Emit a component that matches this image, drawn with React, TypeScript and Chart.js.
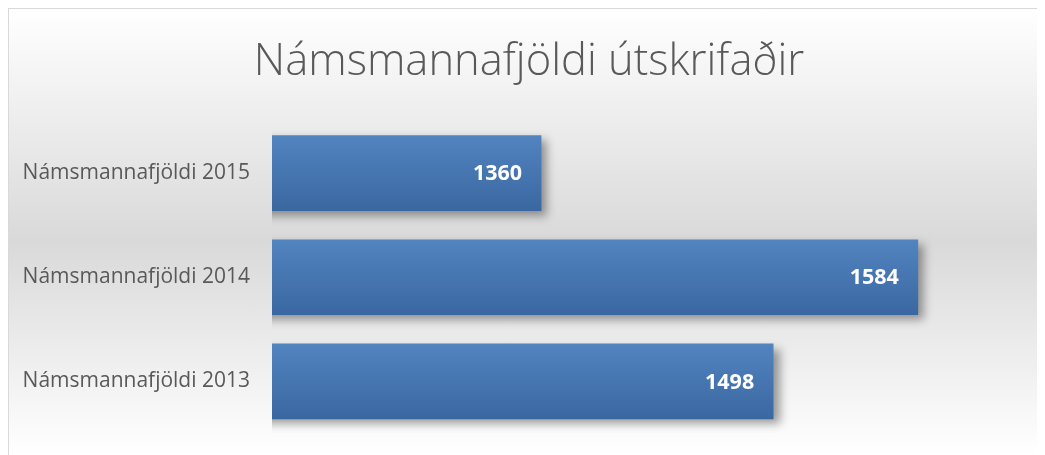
import React, { useEffect, useRef } from "react";
import { Chart, registerables } from "chart.js";

Chart.register(...registerables);

const titleText = "Námsmannafjöldi útskrifaðir";
const categories = ["Námsmannafjöldi 2015", "Námsmannafjöldi 2014", "Námsmannafjöldi 2013"];
const values = [1360, 1584, 1498];
const axisMin = 1200;
const axisMax = 1662;

const BAR_H = 75;

const shadowPlugin = {
  id: "barShadow",
  beforeDatasetsDraw(chart: any) {
    const ctx = chart.ctx;
    ctx.save();
    ctx.shadowColor = "rgba(0,0,0,0.38)";
    ctx.shadowBlur = 9;
    ctx.shadowOffsetX = 6;
    ctx.shadowOffsetY = 5;
  },
  afterDatasetsDraw(chart: any) {
    chart.ctx.restore();
  },
};

const labelPlugin = {
  id: "barLabels",
  afterDatasetsDraw(chart: any) {
    const ctx = chart.ctx;
    const meta = chart.getDatasetMeta(0);
    ctx.save();
    ctx.fillStyle = "#ffffff";
    ctx.font = "bold 21.5px 'Open Sans'";
    ctx.textAlign = "right";
    ctx.textBaseline = "middle";
    meta.data.forEach((el: any, i: number) => {
      ctx.fillText(String(values[i]), el.x - 19, el.y + 1);
    });
    ctx.restore();
  },
};

export default function App() {
  const ref = useRef<HTMLCanvasElement>(null);
  useEffect(() => {
    if (!ref.current) return;
    const chart = new Chart(ref.current, {
      type: "bar",
      data: {
        labels: categories,
        datasets: [
          {
            data: values,
            barThickness: BAR_H,
            backgroundColor: (c: any) => {
              const ch = c.chart;
              const y = ch.scales && ch.scales.y;
              if (!y || c.dataIndex === undefined) return "#4a7ab5";
              const cy = y.getPixelForValue(c.dataIndex);
              if (!isFinite(cy)) return "#4a7ab5";
              const g = ch.ctx.createLinearGradient(0, cy - BAR_H / 2, 0, cy + BAR_H / 2);
              g.addColorStop(0, "#5284c0");
              g.addColorStop(1, "#3a67a0");
              return g;
            },
            borderWidth: 0,
          },
        ],
      },
      options: {
        indexAxis: "y",
        responsive: false,
        animation: false,
        layout: { padding: { left: 0, right: 0, top: 0, bottom: 21.5 } },
        plugins: {
          legend: { display: false },
          tooltip: { enabled: false },
          title: {
            display: true,
            text: titleText,
            color: "#595959",
            font: { family: "'Open Sans'", size: 43.5, weight: "300" as any, lineHeight: 1.2 },
            padding: { top: 28, bottom: 31.8 },
          },
        },
        scales: {
          x: { display: false, min: axisMin, max: axisMax },
          y: {
            afterFit: (s: any) => {
              s.width = 263;
              s.paddingTop = 0;
              s.paddingBottom = 0;
            },
            grid: { display: false, drawTicks: false },
            border: { display: false },
            ticks: {
              color: "#595959",
              padding: 22,
              font: { family: "'Open Sans'", size: 21 },
            },
          },
        },
      },
      plugins: [shadowPlugin, labelPlugin],
    });
    return () => chart.destroy();
  }, []);
  return (
    <div
      style={{
        width: 1040,
        height: 446,
        border: "1px solid #d9d9d9",
        background: "linear-gradient(to bottom, #ffffff 0%, #d9d9d9 52%, #ffffff 100%)",
      }}
    >
      <canvas ref={ref} width={1040} height={446} style={{ display: "block" }} />
    </div>
  );
}
